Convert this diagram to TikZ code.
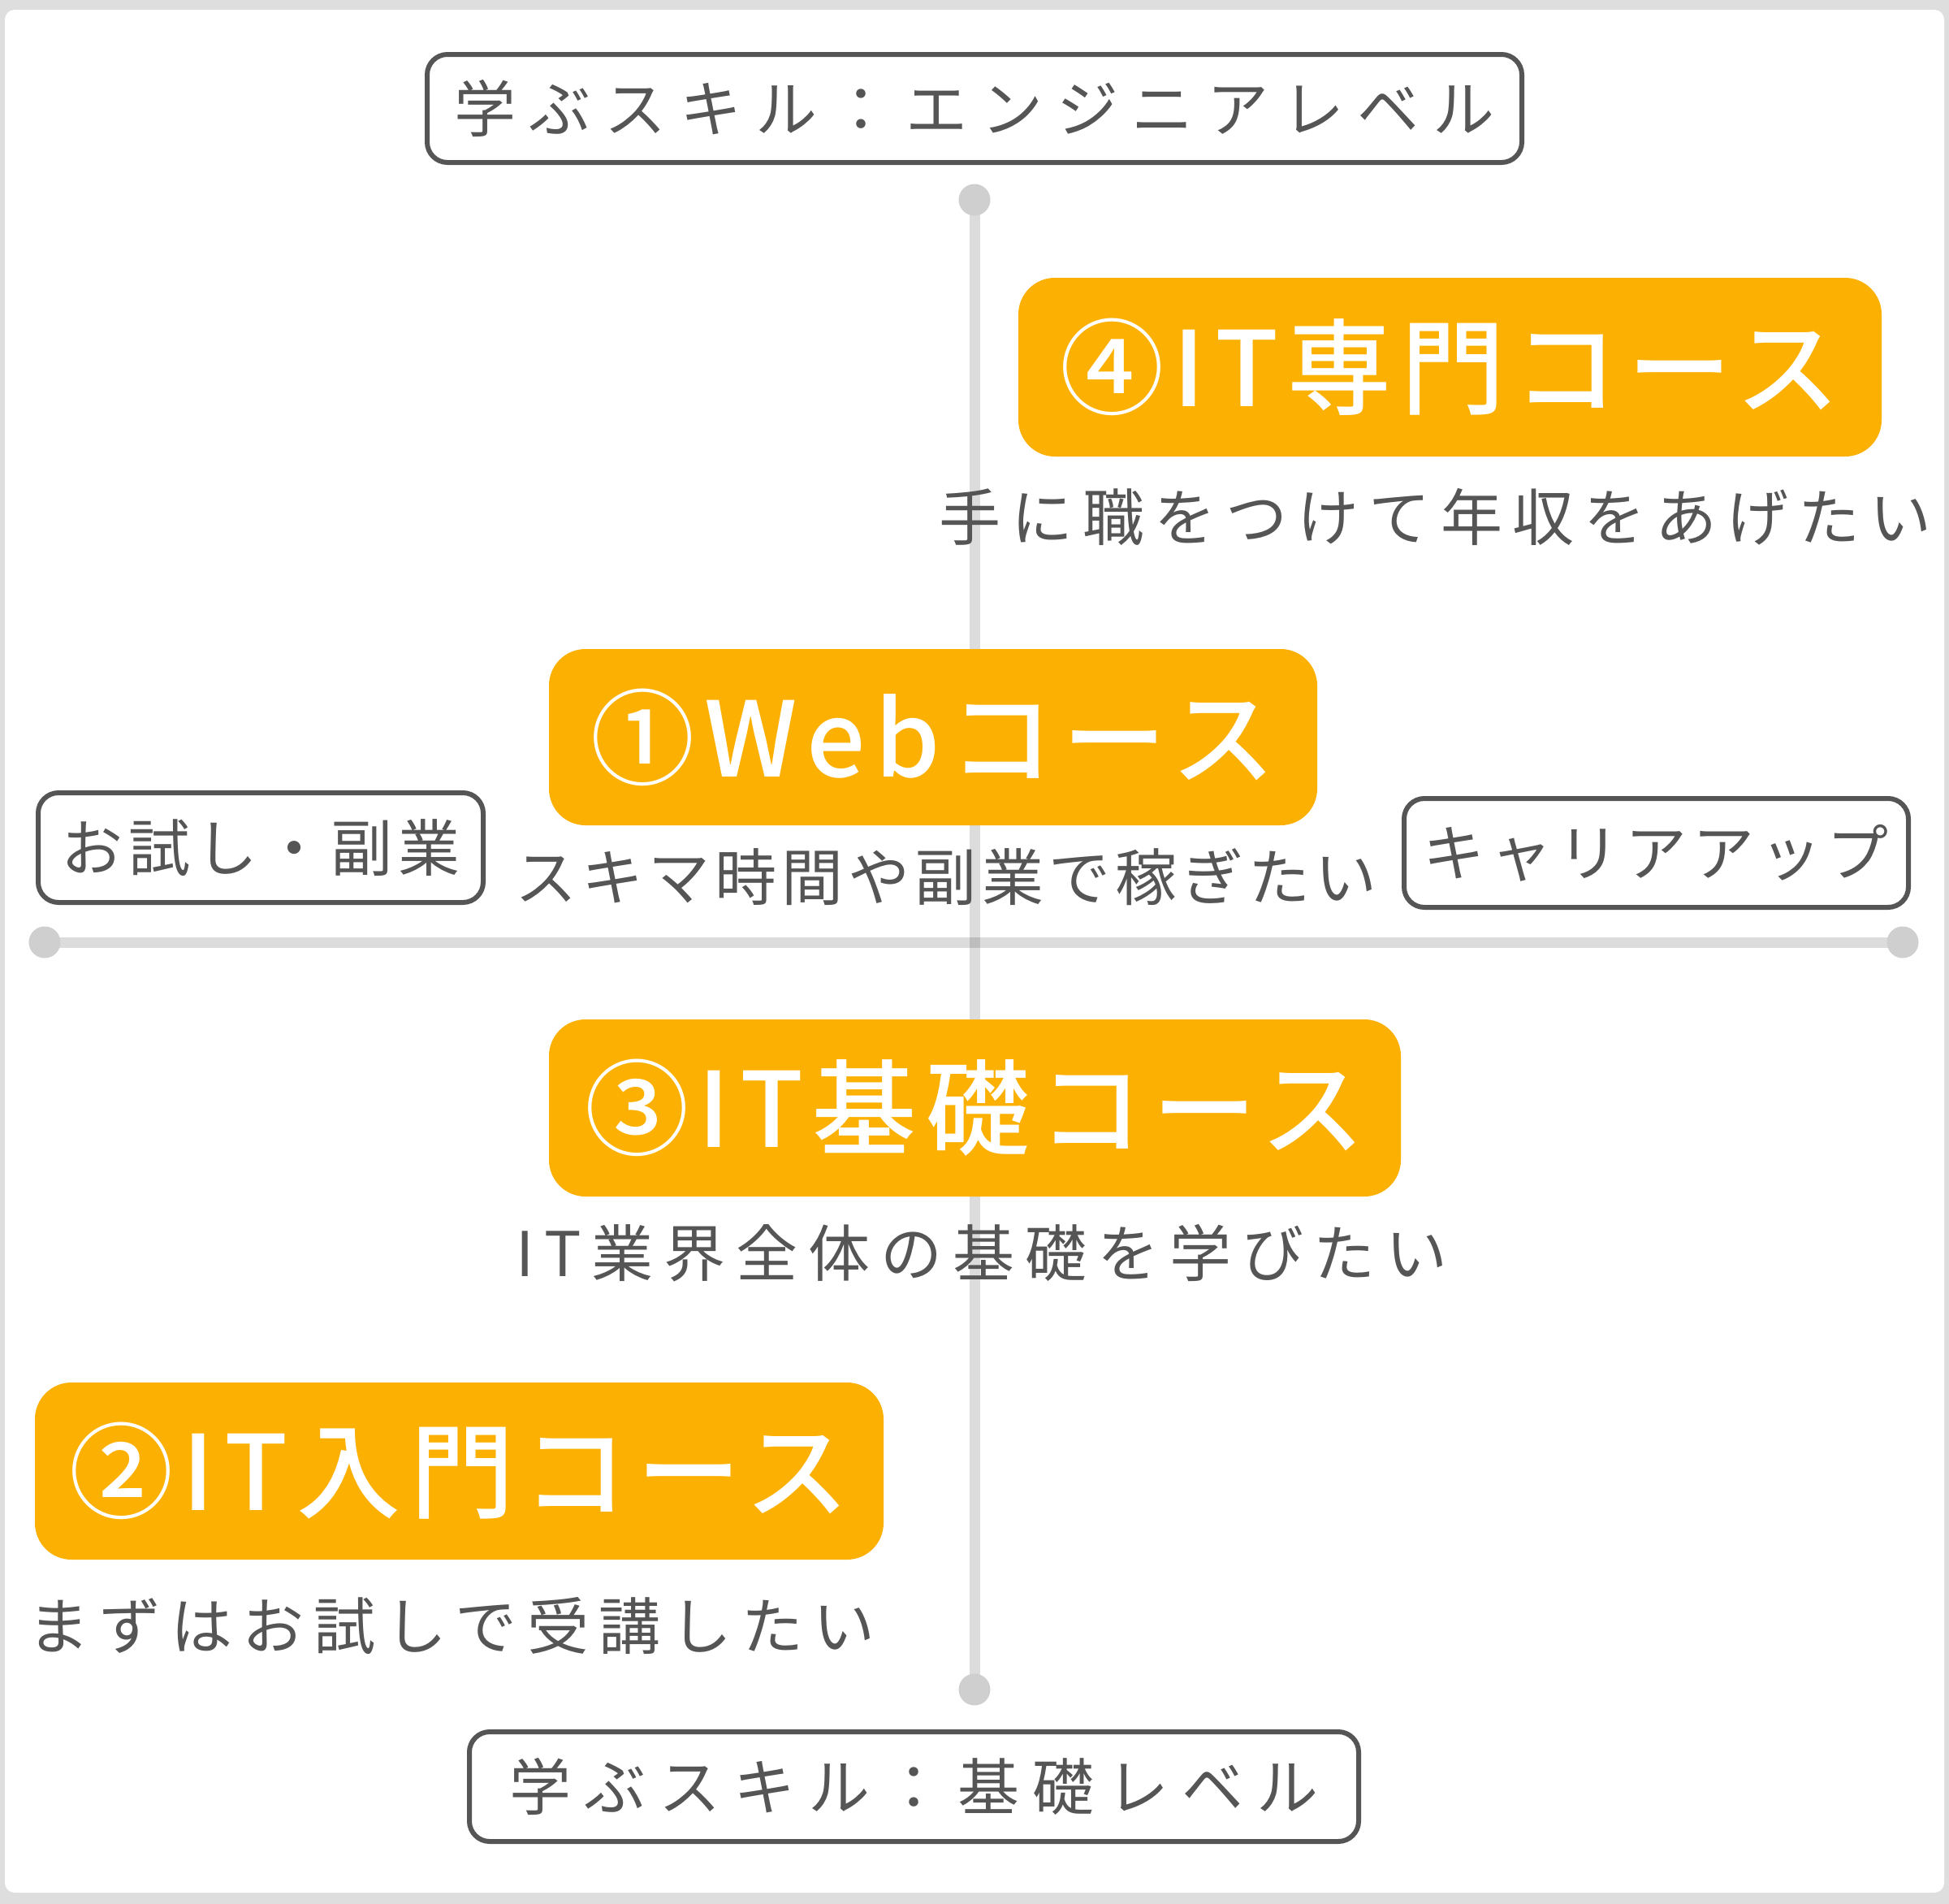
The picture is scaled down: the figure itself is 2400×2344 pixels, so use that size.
\documentclass[tikz,border=0pt]{standalone}
\usepackage{fontspec}
\setmainfont{Noto Sans CJK JP}
\IfFontExistsTF{Noto Sans CJK JP Medium}
  {\newfontfamily\titlefamily{Noto Sans CJK JP Medium}}
  {\newcommand\titlefamily{\bfseries}}
\definecolor{corange}{HTML}{FCB102}
\definecolor{cgray}{HTML}{555555}
\definecolor{cframe}{HTML}{DEDEDE}
\definecolor{cdot}{HTML}{CFCFCF}
\newcommand\gfont[1]{\fontsize{22.8}{24}\selectfont\addfontfeatures{LetterSpace=#1}}
\newcommand\tfont{\titlefamily\fontsize{38.4}{40}\selectfont\addfontfeatures{LetterSpace=9}}
\begin{document}
\begin{tikzpicture}[x=0.3pt,y=-0.3pt,
  course/.style={fill=corange, rounded corners=13.5pt, inner sep=0pt, text=white, font=\tfont},
  skill/.style={draw=cgray, line width=1.8pt, fill=white, rounded corners=7.5pt, inner sep=0pt, text=cgray},
  sub/.style={inner sep=0pt, text=cgray},
  axis/.style={line width=3.9pt, draw=black, draw opacity=0.137},
  axisdot/.style={circle, fill=cdot, inner sep=0pt, minimum size=11.7pt}]
\fill[cframe] (0,0) rectangle (2400,2344);
\fill[white, rounded corners=3.6pt] (6,12) rectangle (2394,2330);
\useasboundingbox (0,0) rectangle (2400,2344);
% axis end points
\coordinate (vtopc) at (1200,246);
\coordinate (vbotc) at (1200,2080);
\coordinate (hlc) at (55,1160);
\coordinate (hrc) at (2343,1160);
\draw[axis] (vtopc) -- (vbotc);
\draw[axis] (hlc) -- (hrc);
\node[axisdot] (vtop) at (vtopc) {};
\node[axisdot] (vbot) at (vbotc) {};
\node[axisdot] (hl) at (hlc) {};
\node[axisdot] (hr) at (hrc) {};
% skill level boxes
\node[skill, minimum width=1348*0.3pt, minimum height=133*0.3pt, font=\gfont{22}] (top) at (1200,133.5) {学ぶスキル：エンジニアレベル};
\node[skill, minimum width=1095*0.3pt, minimum height=135*0.3pt, font=\gfont{21}] (bottom) at (1125.5,2199.5) {学ぶスキル：基礎レベル};
\node[skill, minimum width=548*0.3pt, minimum height=135*0.3pt, font=\gfont{9}] (left) at (321,1043.5) {お試し・副業};
\node[skill, minimum width=621*0.3pt, minimum height=134*0.3pt, font=\gfont{9}] (right) at (2039.5,1050) {キャリアアップ};
% courses
\node[course, minimum width=1063*0.3pt, minimum height=220*0.3pt] (c4) at (1785.5,452) {④IT専門コース};
\node[course, minimum width=946*0.3pt, minimum height=217*0.3pt] (c1) at (1149,907.5) {①Webコース};
\node[course, minimum width=1049*0.3pt, minimum height=218*0.3pt] (c3) at (1200.5,1364) {③IT基礎コース};
\node[course, minimum width=1045*0.3pt, minimum height=218*0.3pt] (c2) at (565.5,1811) {②IT入門コース};
% descriptions
\node[sub, font=\gfont{16}] (s4) at (1768,636) {手に職をつけて年収をあげたい};
\node[sub, font=\gfont{8}] (s1) at (1165,1080) {スキマ時間や副業で稼ぎたい};
\node[sub, font=\gfont{17}] (s3) at (1209,1543) {IT業界全体の基礎を学びたい};
\node[sub, font=\gfont{16}] (s2) at (556,2002) {まずはお試しで受講したい};
\end{tikzpicture}
\end{document}
